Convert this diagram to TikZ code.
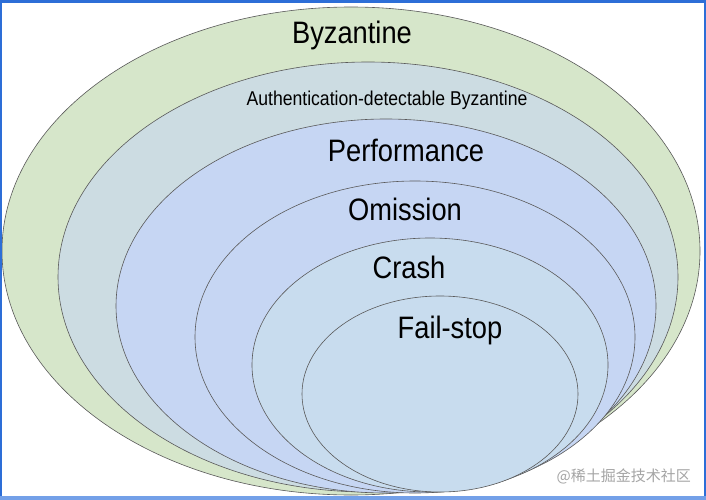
\documentclass[tikz,border=0pt]{standalone}
\usepackage{graphicx}
\usepackage{fontspec}
\setmainfont{Liberation Sans}
\newfontfamily\cjk{Noto Sans CJK SC}
\definecolor{cgreen}{RGB}{214,230,202}
\definecolor{cgray}{RGB}{204,220,226}
\definecolor{cblue}{RGB}{198,214,243}
\definecolor{clight}{RGB}{200,220,238}
\definecolor{frametop}{RGB}{45,110,215}
\definecolor{framebot}{RGB}{115,160,232}
\definecolor{wm}{RGB}{165,165,165}
\begin{document}
\begin{tikzpicture}[x=1pt,y=-1pt,
  ell/.style={draw=black!65, line width=0.6pt},
  big/.style={anchor=base, inner sep=0pt, font=\fontsize{31}{31}\selectfont},
  small/.style={anchor=base, inner sep=0pt, font=\fontsize{20}{20}\selectfont}]
\useasboundingbox (0,0) rectangle (706,500);
\fill[white] (0,0) rectangle (706,500);
% nested ellipses
\filldraw[ell, fill=cgreen] (351,251) ellipse [x radius=349, y radius=244];
\filldraw[ell, fill=cgray]  (368,277) ellipse [x radius=310, y radius=215];
\filldraw[ell, fill=cblue]  (386,306) ellipse [x radius=270, y radius=187];
\filldraw[ell, fill=cblue]  (415,337) ellipse [x radius=220, y radius=156];
\filldraw[ell, fill=clight] (430,365) ellipse [x radius=178, y radius=127];
\filldraw[ell, fill=clight] (440,394) ellipse [x radius=138, y radius=98];
% labels
\node[big]   (byz)  at (352,43.5) {\scalebox{0.88}[1]{Byzantine}};
\node[small] (auth) at (387,106)  {\scalebox{0.88}[1]{Authentication-detectable Byzantine}};
\node[big]   (perf) at (406,161.5){\scalebox{0.88}[1]{Performance}};
\node[big]   (omi)  at (405,220)  {\scalebox{0.88}[1]{Omission}};
\node[big]   (cra)  at (409,278)  {\scalebox{0.88}[1]{Crash}};
\node[big]   (fail) at (450,338)  {\scalebox{0.88}[1]{Fail-stop}};
% watermark
\node[anchor=base east, inner sep=0pt, text=wm, font=\cjk\fontsize{15}{15}\selectfont] (wmk) at (691,481) {@稀土掘金技术社区};
% frame
\fill[frametop] (0,0) rectangle (706,3.5);
\fill[frametop] (0,0) rectangle (2,500);
\fill[frametop] (704,0) rectangle (706,500);
\fill[framebot] (0,496) rectangle (706,500);
\end{tikzpicture}
\end{document}
